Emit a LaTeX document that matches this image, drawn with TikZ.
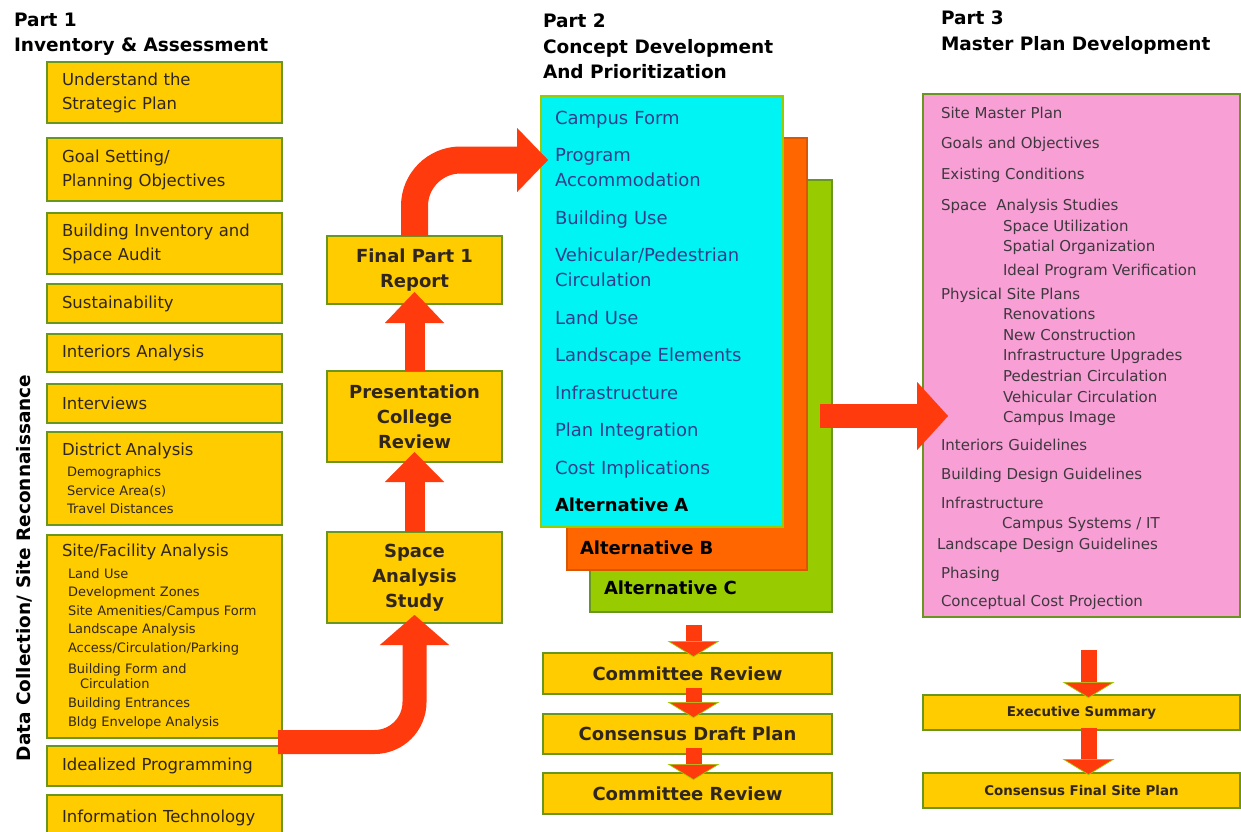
\documentclass[tikz,border=0pt]{standalone}
\usepackage{fontspec}
\setmainfont{DejaVu Sans}
\usepackage{tikz}
\usetikzlibrary{arrows.meta,positioning,calc}
\tikzset{every node/.append style={inner sep=0pt, outer sep=0pt}}
\newcommand{\setfs}[2]{\fontsize{#1}{#2}\selectfont}
\definecolor{boxfill}{RGB}{255,204,0}
\definecolor{boxline}{RGB}{105,150,30}
\definecolor{flowred}{RGB}{255,58,12}
\definecolor{altacolor}{RGB}{0,244,244}
\definecolor{altbcolor}{RGB}{255,102,0}
\definecolor{altccolor}{RGB}{153,204,0}
\definecolor{plancolor}{RGB}{248,160,214}
\definecolor{inktext}{RGB}{48,38,28}
\definecolor{bluetext}{RGB}{50,62,140}
\definecolor{graytext}{RGB}{62,56,62}

\begin{document}
\begin{tikzpicture}[x=1pt, y=-1pt,
    ybox/.style={draw=boxline, fill=boxfill, line width=2.8pt, anchor=north west, text=inktext},
    leftbox/.style={ybox, minimum width=235, text width=205, align=left, font=\setfs{16.5}{24}},
    subbox/.style={ybox, minimum width=235, text width=205, align=left, font=\setfs{13}{18.4}},
    stepbox/.style={ybox, minimum width=175, align=center, font=\bfseries\setfs{18}{25}},
    reviewbox/.style={ybox, minimum width=289, minimum height=41, font=\bfseries\setfs{18}{22}},
    summarybox/.style={ybox, minimum width=317, minimum height=35, font=\bfseries\setfs{13.4}{16}},
    parthead/.style={anchor=north west, align=left, font=\bfseries\setfs{18.5}{25.5}, text=black},
    altbox/.style={anchor=north west, draw=boxline, line width=1.5pt},
    alttitle/.style={anchor=west, font=\bfseries\setfs{18}{22}, text=black},
    bigflow/.style={draw=flowred, rounded corners=40pt},
    smallflow/.style={draw=flowred, line width=16pt,
      -{Triangle[width=52pt,length=16pt,line width=0.7pt,color=altccolor,fill=flowred]}}]
    \useasboundingbox (0,0) rectangle (1241,831);
    \clip (0,0) rectangle (1241,831);
    \fill[white] (0,0) rectangle (1241,831);

    % Part 1 column
    \node[parthead] (head1) at (14,13) {Part 1\\Inventory \& Assessment};
    \node[rotate=90, font=\bfseries\setfs{18.5}{20}, text=black] (sidelabel) at (24,568) {Data Collection/ Site Reconnaissance};

    \node[leftbox, minimum height=61] (strategic) at (47,62) {Understand the\\Strategic Plan};
    \node[leftbox, minimum height=63] (goals) at (47,138) {Goal Setting/\\Planning Objectives};
    \node[leftbox, minimum height=61] (audit) at (47,213) {Building Inventory and\\Space Audit};
    \node[leftbox, minimum height=39] (sustain) at (47,284) {Sustainability};
    \node[leftbox, minimum height=38] (interiors) at (47,334) {Interiors Analysis};
    \node[leftbox, minimum height=39] (interviews) at (47,384) {Interviews};
    \node[subbox, minimum height=93] (district) at (47,432) {{\setfs{16.5}{18.4}District Analysis}\\[3pt]
        \hspace*{5pt}Demographics\\ \hspace*{5pt}Service Area(s)\\ \hspace*{5pt}Travel Distances};
    \node[subbox, minimum height=203] (site) at (47,535) {{\setfs{16.5}{18.4}Site/Facility Analysis}\\[3.5pt]
        \hspace*{6pt}Land Use\\ \hspace*{6pt}Development Zones\\ \hspace*{6pt}Site Amenities/Campus Form\\
        \hspace*{6pt}Landscape Analysis\\ \hspace*{6pt}Access/Circulation/Parking\\[2.5pt]
        \hspace*{6pt}Building Form and\\[-3pt] \hspace*{18pt}Circulation\\[1pt]
        \hspace*{6pt}Building Entrances\\ \hspace*{6pt}Bldg Envelope Analysis};
    \node[leftbox, minimum height=40] (ideal) at (47,746) {Idealized Programming};
    \node[leftbox, minimum height=45] (infotech) at (47,795) {Information Technology};

    % Part 1 reports
    \node[stepbox, minimum height=68] (final) at (327,236) {Final Part 1\\Report};
    \node[stepbox, minimum height=91] (review) at (327,371) {Presentation\\College\\Review};
    \node[stepbox, minimum height=91] (space) at (327,532) {Space\\Analysis\\Study};

    % Part 2 column
    \node[parthead] (head2) at (543,14) {Part 2\\Concept Development\\And Prioritization};
    \node[altbox, fill=altccolor, minimum width=242, minimum height=432] (altC) at (590,180) {};
    \node[altbox, fill=altbcolor, draw=altbcolor!85!black, minimum width=240, minimum height=432] (altB) at (567,138) {};
    \node[altbox, fill=altacolor, draw=altccolor, line width=2pt, minimum width=242, minimum height=431, text width=214, align=left,
        text=bluetext, font=\setfs{18}{25}] (altA) at (541,96) {Campus Form\\[12.5pt]
        Program\\Accommodation\\[12.5pt]
        Building Use\\[12.5pt]
        Vehicular/Pedestrian\\Circulation\\[12.5pt]
        Land Use\\[12.5pt]
        Landscape Elements\\[12.5pt]
        Infrastructure\\[12.5pt]
        Plan Integration\\[12.5pt]
        Cost Implications\\[12.5pt]
        {\bfseries\color{black}Alternative A}};
    \node[alttitle] (altBname) at ($(altB.south west)+(13,-22)$) {Alternative B};
    \node[alttitle] (altCname) at ($(altC.south west)+(14,-24)$) {Alternative C};

    \node[reviewbox] (rev1) at (543,653) {Committee Review};
    \node[reviewbox, minimum height=40] (draft) at (543,714) {Consensus Draft Plan};
    \node[reviewbox] (rev2) at (543,773) {Committee Review};

    % Part 3 column
    \node[parthead] (head3) at (941,11) {Part 3\\Master Plan Development};
    \node[altbox, fill=plancolor, minimum width=317, minimum height=523, line width=2.5pt] (master) at (923,94) {};
    \node[anchor=north west, align=left, text=graytext, font=\setfs{15}{20.6}] (masterlist) at (941,107) {Site Master Plan\\[9.5pt]
        Goals and Objectives\\[10.5pt]
        Existing Conditions\\[10.5pt]
        Space~~Analysis Studies\\
        \hspace*{62pt}Space Utilization\\
        \hspace*{62pt}Spatial Organization\\[2.5pt]
        \hspace*{62pt}Ideal Program Verification\\[3.5pt]
        Physical Site Plans\\
        \hspace*{62pt}Renovations\\
        \hspace*{62pt}New Construction\\
        \hspace*{62pt}Infrastructure Upgrades\\
        \hspace*{62pt}Pedestrian Circulation\\
        \hspace*{62pt}Vehicular Circulation\\
        \hspace*{62pt}Campus Image\\[7.5pt]
        Interiors Guidelines\\[8.5pt]
        Building Design Guidelines\\[7.5pt]
        Infrastructure\\
        \hspace*{61pt}Campus Systems / IT\\
        \hspace*{-4pt}Landscape Design Guidelines\\[8.5pt]
        Phasing\\[7.5pt]
        Conceptual Cost Projection};

    \node[summarybox] (exec) at (923,695) {Executive Summary};
    \node[summarybox] (finalplan) at (923,773) {Consensus Final Site Plan};

    % Big flows
    \coordinate (siteOut) at ($(site.south east)!0.5!(ideal.north east)+(-4,0)$);
    \coordinate (altIn) at (548,160);
    \coordinate (altOut) at ($(altC.east)+(-12,20)$);
    \coordinate (masterIn) at ($(master.west)+(25,60.5)$);
    \draw[bigflow, line width=24pt, -{Triangle[width=69pt,length=30pt,line width=0.1pt]}] (siteOut) -| ([yshift=8pt]space.south);
    \draw[bigflow, line width=20pt, -{Triangle[width=59pt,length=30pt,line width=0.1pt]}] (space.north) -- ([yshift=10pt]review.south);
    \draw[bigflow, line width=20pt, -{Triangle[width=59pt,length=31pt,line width=0.1pt]}] (review.north) -- ([yshift=12pt]final.south);
    \draw[bigflow, line width=27pt, rounded corners=46pt, -{Triangle[width=64pt,length=31pt,line width=0.1pt]}] (final.north) |- (altIn);
    \draw[bigflow, line width=24pt, -{Triangle[width=68pt,length=31pt,line width=0.1pt]}] (altOut) -- (masterIn);

    % Small flows
    \draw[smallflow] ($(rev1.north)+(6,-28)$) -- ($(rev1.north)+(6,4)$);
    \draw[smallflow] ($(rev1.south)+(6,-6)$) -- ($(draft.north)+(6,4)$);
    \draw[smallflow] ($(draft.south)+(6,-6)$) -- ($(rev2.north)+(6,7)$);
    \draw[smallflow] ($(exec.north)+(7,-45)$) -- ($(exec.north)+(7,3)$);
    \draw[smallflow] ($(exec.south)+(7,-2)$) -- ($(finalplan.north)+(7,2)$);
\end{tikzpicture}
\end{document}
